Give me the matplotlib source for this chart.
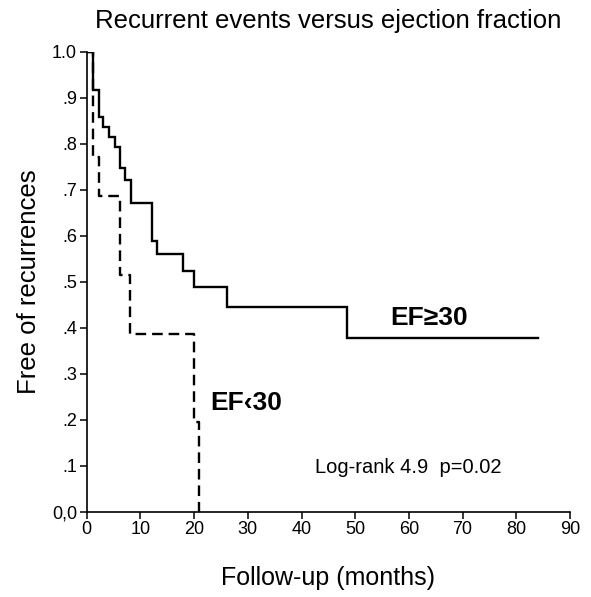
import matplotlib
matplotlib.use("Agg")
import matplotlib.pyplot as plt

# Kaplan-Meier step data (months, survival)
ef_high_t = [0, 1.2, 2.2, 3.1, 4.2, 5.2, 6.2, 7.1, 8.2, 12.2, 13.1, 18.0, 20.0, 26.1, 48.5, 84.0]
ef_high_s = [1.0, 0.917, 0.857, 0.836, 0.814, 0.792, 0.747, 0.721, 0.672, 0.589, 0.560, 0.524, 0.488, 0.446, 0.378, 0.378]

ef_low_t = [0, 1.1, 2.2, 6.2, 8.1, 20.0, 21.0]
ef_low_s = [1.0, 0.770, 0.686, 0.515, 0.386, 0.196, 0.0]

xticks = [0, 10, 20, 30, 40, 50, 60, 70, 80, 90]
yticks = [0.0, 0.1, 0.2, 0.3, 0.4, 0.5, 0.6, 0.7, 0.8, 0.9, 1.0]
ytick_labels = ["0,0", ".1", ".2", ".3", ".4", ".5", ".6", ".7", ".8", ".9", "1.0"]

plt.rcParams['font.family'] = ['Liberation Sans', 'DejaVu Sans']

fig = plt.figure(figsize=(5.91, 5.97), dpi=100)
ax = fig.add_axes([0.1467, 0.1429, 0.9645 - 0.1467, 0.9134 - 0.1429])

ax.step(ef_high_t, ef_high_s, where='post', color='black', lw=1.7, solid_joinstyle='miter')
ax.step(ef_low_t, ef_low_s, where='post', color='black', lw=1.7, linestyle=(0, (4.5, 2.5)))

ax.set_xlim(0, 90)
ax.set_ylim(0, 1.0)
ax.set_xticks(xticks)
ax.set_yticks(yticks)
ax.set_yticklabels(ytick_labels)
ax.spines['top'].set_visible(False)
ax.spines['right'].set_visible(False)
for s in ['left', 'bottom']:
    ax.spines[s].set_linewidth(1.2)
ax.tick_params(direction='out', length=5, width=1.1, labelsize=13, pad=2)

ax.set_title("Recurrent events versus ejection fraction", fontsize=18.5, pad=17)
ax.set_xlabel("Follow-up (months)", fontsize=18, labelpad=20)
ax.set_ylabel("Free of recurrences", fontsize=18.5, labelpad=8)

ax.text(56.5, 0.42, "EF\u226530", fontsize=19, fontweight='bold', va='center', ha='left')
ax.text(23.0, 0.236, "EF\u203930", fontsize=19, fontweight='bold', va='center', ha='left')
ax.text(42.5, 0.097, "Log-rank 4.9  p=0.02", fontsize=14.5, va='center', ha='left')

fig.savefig("out.png", dpi=100)
